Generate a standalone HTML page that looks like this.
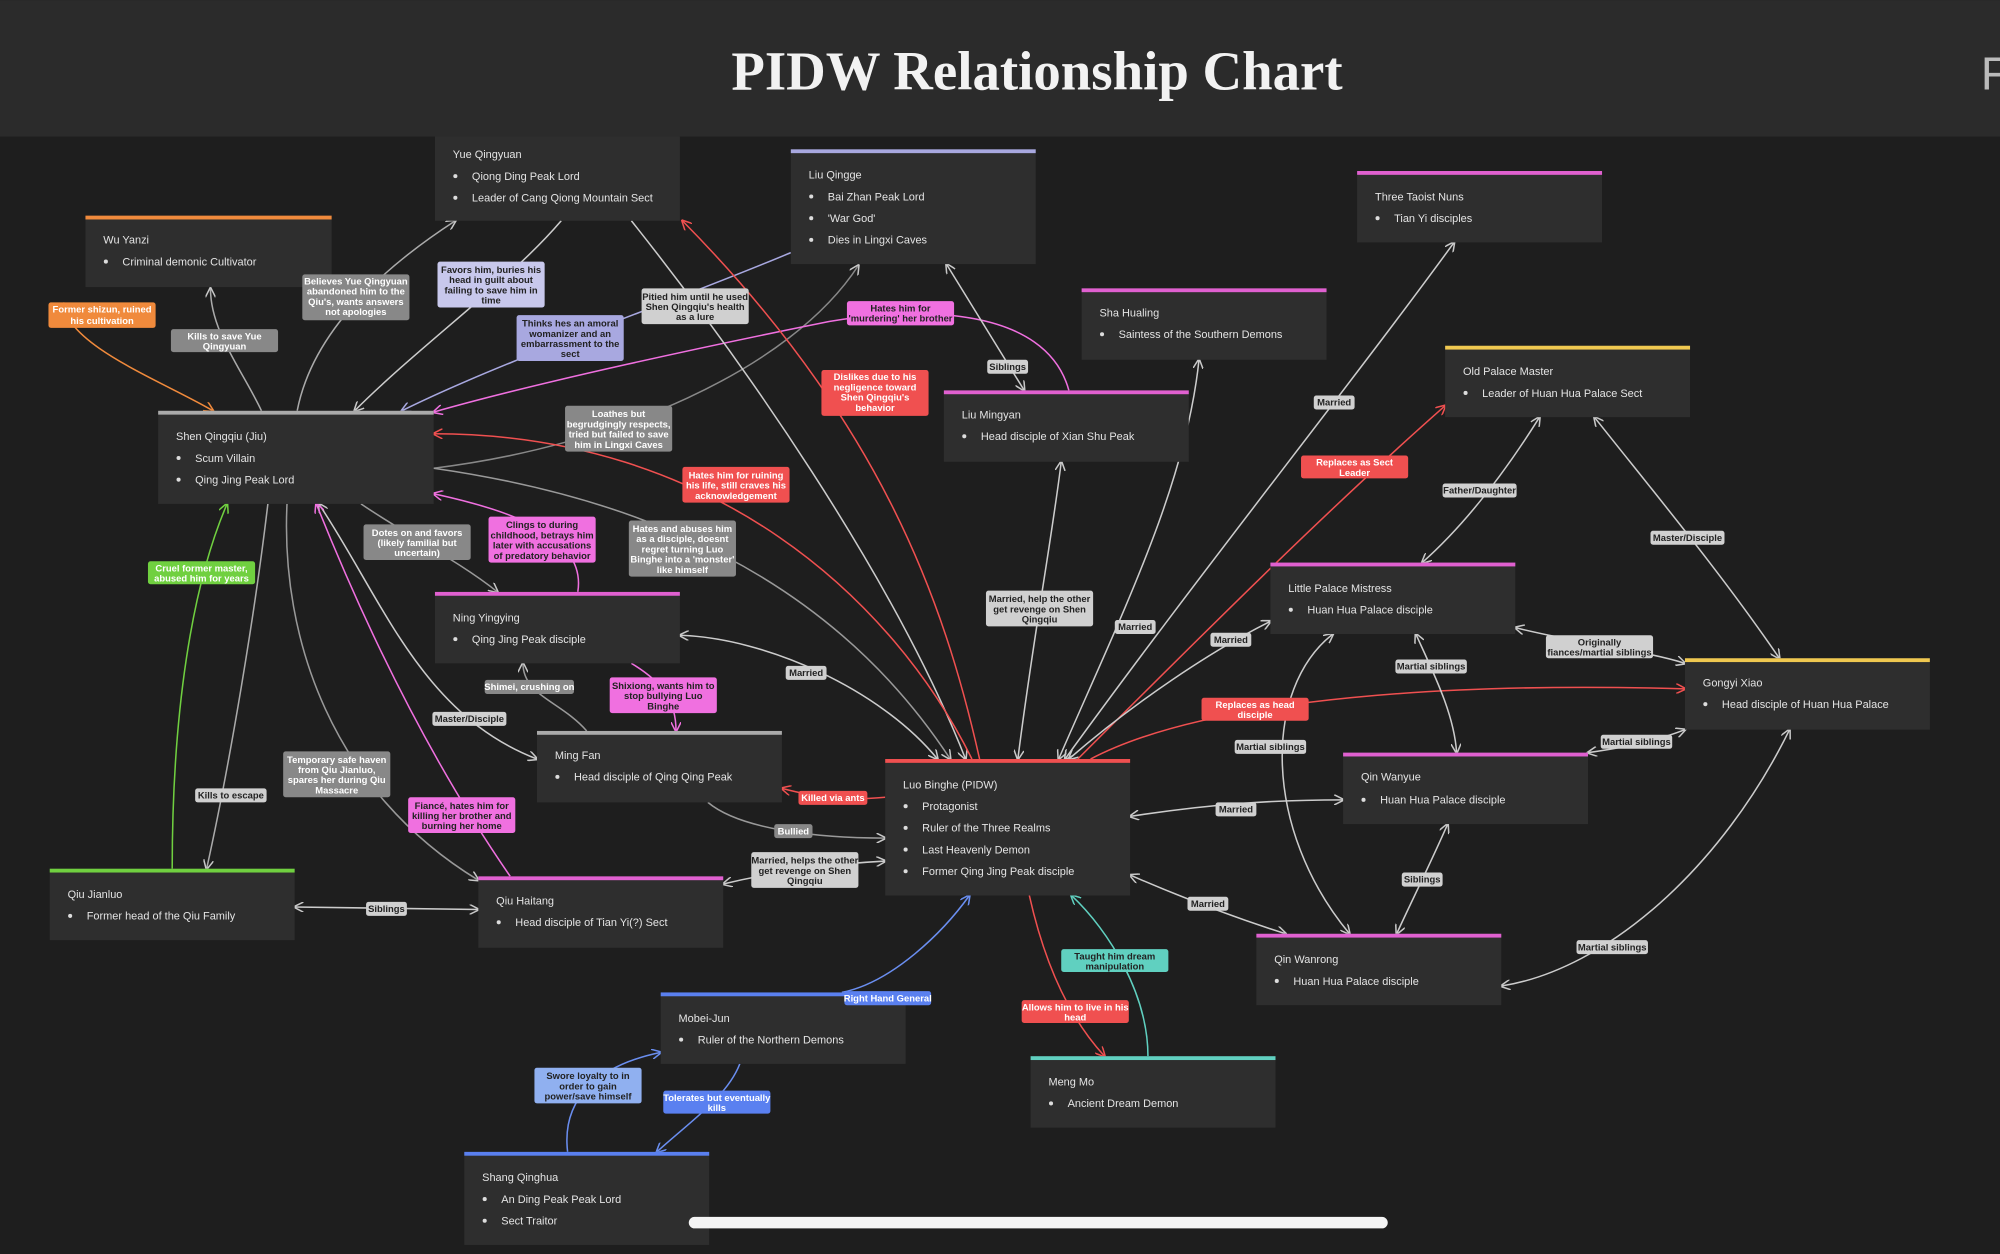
<!DOCTYPE html>
<html><head><meta charset="utf-8"><style>
html,body{margin:0;padding:0;background:#1e1e1e;overflow:hidden}
svg{display:block}
text{font-family:"Liberation Sans",sans-serif}
.nt{fill:#e4e4e4;font-size:8.6px}
.lb{font-size:7.4px;font-weight:bold;text-anchor:middle}
</style></head><body>
<svg width="2000" height="1254" viewBox="0 0 1568 983" xmlns="http://www.w3.org/2000/svg">
<defs>
<marker id="g" markerWidth="8" markerHeight="8" refX="7" refY="4" orient="auto-start-reverse" markerUnits="userSpaceOnUse"><path d="M0,0 L8,4 L0,8" fill="none" stroke="#c8c8c8" stroke-width="1.2"/></marker>
<marker id="r" markerWidth="8" markerHeight="8" refX="7" refY="4" orient="auto-start-reverse" markerUnits="userSpaceOnUse"><path d="M0,0 L8,4 L0,8" fill="none" stroke="#f05050" stroke-width="1.2"/></marker>
<marker id="p" markerWidth="8" markerHeight="8" refX="7" refY="4" orient="auto-start-reverse" markerUnits="userSpaceOnUse"><path d="M0,0 L8,4 L0,8" fill="none" stroke="#f070e0" stroke-width="1.2"/></marker>
<marker id="o" markerWidth="8" markerHeight="8" refX="7" refY="4" orient="auto-start-reverse" markerUnits="userSpaceOnUse"><path d="M0,0 L8,4 L0,8" fill="none" stroke="#f08a3c" stroke-width="1.2"/></marker>
<marker id="gr" markerWidth="8" markerHeight="8" refX="7" refY="4" orient="auto-start-reverse" markerUnits="userSpaceOnUse"><path d="M0,0 L8,4 L0,8" fill="none" stroke="#70d040" stroke-width="1.2"/></marker>
<marker id="b" markerWidth="8" markerHeight="8" refX="7" refY="4" orient="auto-start-reverse" markerUnits="userSpaceOnUse"><path d="M0,0 L8,4 L0,8" fill="none" stroke="#6a8ef0" stroke-width="1.2"/></marker>
<marker id="t" markerWidth="8" markerHeight="8" refX="7" refY="4" orient="auto-start-reverse" markerUnits="userSpaceOnUse"><path d="M0,0 L8,4 L0,8" fill="none" stroke="#60d0c0" stroke-width="1.2"/></marker>
<marker id="l" markerWidth="8" markerHeight="8" refX="7" refY="4" orient="auto-start-reverse" markerUnits="userSpaceOnUse"><path d="M0,0 L8,4 L0,8" fill="none" stroke="#a8a8e0" stroke-width="1.2"/></marker>
</defs>
<rect width="1568" height="983" fill="#1e1e1e"/>
<rect width="1568" height="107" fill="#2b2b2b"/>
<text x="813" y="70" text-anchor="middle" fill="#f2f2f2" font-weight="bold" font-size="43" style="font-family:'Liberation Serif',serif">PIDW Relationship Chart</text>
<text x="1553" y="70" fill="#bbb" font-size="36">F</text>

<g fill="none" stroke-width="1.2">
<path d="M50,237 C50,270 130,300 167,322" stroke="#f08a3c" marker-end="url(#o)"/>
<path d="M205,322 C190,290 165,260 165,226" stroke="#aaa" marker-end="url(#g)"/>
<path d="M233,322 C245,260 300,210 357,173" stroke="#aaa" marker-end="url(#g)"/>
<path d="M440,173 C400,220 330,270 278,322" stroke="#ccc" marker-end="url(#g)"/>
<path d="M620,198 C520,240 400,280 315,322" stroke="#a8a8e0" marker-end="url(#l)"/>
<path d="M340,367 C480,350 620,290 673,208" stroke="#888" marker-end="url(#g)"/>
<path d="M838,306 C820,240 720,240 650,252 C560,270 420,300 340,323" stroke="#f070e0" marker-end="url(#p)"/>
<path d="M742,207 L803,306" stroke="#ccc" marker-start="url(#g)" marker-end="url(#g)"/>
<path d="M495,173 C580,280 700,450 757,595" stroke="#ccc" marker-end="url(#g)"/>
<path d="M768,595 C740,470 690,330 535,173" stroke="#f05050" marker-end="url(#r)"/>
<path d="M762,595 C700,470 560,340 340,340" stroke="#f05050" marker-end="url(#r)"/>
<path d="M340,367 C500,390 650,450 745,595" stroke="#999" marker-end="url(#g)"/>
<path d="M453,464 C460,420 400,400 340,387" stroke="#f070e0" marker-end="url(#p)"/>
<path d="M283,395 C320,420 360,440 390,464" stroke="#999" marker-end="url(#g)"/>
<path d="M735,595 C690,540 600,500 533,498" stroke="#ccc" marker-start="url(#g)" marker-end="url(#g)"/>
<path d="M495,520 C520,535 530,550 530,573" stroke="#f070e0" marker-end="url(#p)"/>
<path d="M460,573 C440,550 410,545 410,520" stroke="#999" marker-end="url(#g)"/>
<path d="M250,395 C300,470 330,560 421,595" stroke="#ccc" marker-start="url(#g)" marker-end="url(#g)"/>
<path d="M694,625 C660,628 640,625 613,618" stroke="#f05050" marker-end="url(#r)"/>
<path d="M555,629 C580,650 640,657 694,657" stroke="#999" marker-end="url(#g)"/>
<path d="M694,675 C640,678 600,685 567,693" stroke="#ccc" marker-start="url(#g)" marker-end="url(#g)"/>
<path d="M400,687 C340,600 290,500 248,395" stroke="#f070e0" marker-end="url(#p)"/>
<path d="M225,395 C220,500 260,620 375,690" stroke="#999" marker-end="url(#g)"/>
<path d="M210,395 C200,480 180,600 162,681" stroke="#aaa" marker-end="url(#g)"/>
<path d="M135,681 C135,560 150,460 178,395" stroke="#70d040" marker-end="url(#gr)"/>
<path d="M231,711 L375,713" stroke="#ccc" marker-start="url(#g)" marker-end="url(#g)"/>
<path d="M660,778 C700,770 740,730 760,702" stroke="#6a8ef0" marker-end="url(#b)"/>
<path d="M445,903 C440,860 470,835 518,825" stroke="#6a8ef0" marker-end="url(#b)"/>
<path d="M580,834 C570,860 540,880 515,903" stroke="#6a8ef0" marker-end="url(#b)"/>
<path d="M807,702 C820,760 840,800 866,828" stroke="#f05050" marker-end="url(#r)"/>
<path d="M900,828 C900,780 870,730 840,702" stroke="#60d0c0" marker-end="url(#t)"/>
<path d="M798,595 C810,500 825,420 832,362" stroke="#ccc" marker-start="url(#g)" marker-end="url(#g)"/>
<path d="M830,595 C880,480 930,380 940,282" stroke="#ccc" marker-start="url(#g)" marker-end="url(#g)"/>
<path d="M835,595 C940,450 1060,300 1140,190" stroke="#ccc" marker-start="url(#g)" marker-end="url(#g)"/>
<path d="M845,595 C940,500 1040,400 1133,318" stroke="#f05050" marker-end="url(#r)"/>
<path d="M838,595 C890,550 950,510 996,487" stroke="#ccc" marker-start="url(#g)" marker-end="url(#g)"/>
<path d="M855,595 C950,545 1150,535 1321,540" stroke="#f05050" marker-end="url(#r)"/>
<path d="M886,640 C950,630 1000,627 1053,627" stroke="#ccc" marker-start="url(#g)" marker-end="url(#g)"/>
<path d="M886,686 C930,705 970,720 1008,732" stroke="#ccc" marker-start="url(#g)" marker-end="url(#g)"/>
<path d="M1207,327 C1180,370 1150,410 1115,441" stroke="#ccc" marker-start="url(#g)" marker-end="url(#g)"/>
<path d="M1250,327 C1300,390 1350,450 1395,516" stroke="#ccc" marker-start="url(#g)" marker-end="url(#g)"/>
<path d="M1188,492 C1240,505 1290,510 1321,520" stroke="#ccc" marker-start="url(#g)" marker-end="url(#g)"/>
<path d="M1110,497 C1125,530 1140,560 1142,590" stroke="#ccc" marker-start="url(#g)" marker-end="url(#g)"/>
<path d="M1045,497 C990,540 990,650 1058,732" stroke="#ccc" marker-start="url(#g)" marker-end="url(#g)"/>
<path d="M1245,590 C1280,585 1300,580 1321,572" stroke="#ccc" marker-start="url(#g)" marker-end="url(#g)"/>
<path d="M1135,646 C1120,680 1105,710 1095,732" stroke="#ccc" marker-start="url(#g)" marker-end="url(#g)"/>
<path d="M1403,572 C1350,680 1260,760 1177,773" stroke="#ccc" marker-start="url(#g)" marker-end="url(#g)"/>
</g>

<g>
<rect x="341" y="107" width="192" height="66" fill="#2e2e2e"/>
<text class="nt" x="355" y="124">Yue Qingyuan</text>
<circle cx="357" cy="138" r="1.6" fill="#ddd"/><text class="nt" x="370" y="141">Qiong Ding Peak Lord</text>
<circle cx="357" cy="155" r="1.6" fill="#ddd"/><text class="nt" x="370" y="158">Leader of Cang Qiong Mountain Sect</text>

<rect x="620" y="117" width="192" height="90" fill="#2e2e2e"/><rect x="620" y="117" width="192" height="3" fill="#a8a8e0"/>
<text class="nt" x="634" y="140">Liu Qingge</text>
<circle cx="636" cy="154" r="1.6" fill="#ddd"/><text class="nt" x="649" y="157">Bai Zhan Peak Lord</text>
<circle cx="636" cy="171" r="1.6" fill="#ddd"/><text class="nt" x="649" y="174">'War God'</text>
<circle cx="636" cy="188" r="1.6" fill="#ddd"/><text class="nt" x="649" y="191">Dies in Lingxi Caves</text>

<rect x="67" y="169" width="193" height="56" fill="#2e2e2e"/><rect x="67" y="169" width="193" height="3" fill="#f08a3c"/>
<text class="nt" x="81" y="191">Wu Yanzi</text>
<circle cx="83" cy="205" r="1.6" fill="#ddd"/><text class="nt" x="96" y="208">Criminal demonic Cultivator</text>

<rect x="1064" y="134" width="192" height="56" fill="#2e2e2e"/><rect x="1064" y="134" width="192" height="3" fill="#e060d0"/>
<text class="nt" x="1078" y="157">Three Taoist Nuns</text>
<circle cx="1080" cy="171" r="1.6" fill="#ddd"/><text class="nt" x="1093" y="174">Tian Yi disciples</text>

<rect x="848" y="226" width="192" height="56" fill="#2e2e2e"/><rect x="848" y="226" width="192" height="3" fill="#e060d0"/>
<text class="nt" x="862" y="248">Sha Hualing</text>
<circle cx="864" cy="262" r="1.6" fill="#ddd"/><text class="nt" x="877" y="265">Saintess of the Southern Demons</text>

<rect x="1133" y="271" width="192" height="56" fill="#2e2e2e"/><rect x="1133" y="271" width="192" height="3" fill="#f0c850"/>
<text class="nt" x="1147" y="294">Old Palace Master</text>
<circle cx="1149" cy="308" r="1.6" fill="#ddd"/><text class="nt" x="1162" y="311">Leader of Huan Hua Palace Sect</text>

<rect x="740" y="306" width="192" height="56" fill="#2e2e2e"/><rect x="740" y="306" width="192" height="3" fill="#e060d0"/>
<text class="nt" x="754" y="328">Liu Mingyan</text>
<circle cx="756" cy="342" r="1.6" fill="#ddd"/><text class="nt" x="769" y="345">Head disciple of Xian Shu Peak</text>

<rect x="124" y="322" width="216" height="73" fill="#2e2e2e"/><rect x="124" y="322" width="216" height="3" fill="#aaa"/>
<text class="nt" x="138" y="345">Shen Qingqiu (Jiu)</text>
<circle cx="140" cy="359" r="1.6" fill="#ddd"/><text class="nt" x="153" y="362">Scum Villain</text>
<circle cx="140" cy="376" r="1.6" fill="#ddd"/><text class="nt" x="153" y="379">Qing Jing Peak Lord</text>

<rect x="996" y="441" width="192" height="56" fill="#2e2e2e"/><rect x="996" y="441" width="192" height="3" fill="#e060d0"/>
<text class="nt" x="1010" y="464">Little Palace Mistress</text>
<circle cx="1012" cy="478" r="1.6" fill="#ddd"/><text class="nt" x="1025" y="481">Huan Hua Palace disciple</text>

<rect x="341" y="464" width="192" height="56" fill="#2e2e2e"/><rect x="341" y="464" width="192" height="3" fill="#e060d0"/>
<text class="nt" x="355" y="487">Ning Yingying</text>
<circle cx="357" cy="501" r="1.6" fill="#ddd"/><text class="nt" x="370" y="504">Qing Jing Peak disciple</text>

<rect x="1321" y="516" width="192" height="56" fill="#2e2e2e"/><rect x="1321" y="516" width="192" height="3" fill="#f0c850"/>
<text class="nt" x="1335" y="538">Gongyi Xiao</text>
<circle cx="1337" cy="552" r="1.6" fill="#ddd"/><text class="nt" x="1350" y="555">Head disciple of  Huan Hua Palace</text>

<rect x="421" y="573" width="192" height="56" fill="#2e2e2e"/><rect x="421" y="573" width="192" height="3" fill="#aaa"/>
<text class="nt" x="435" y="595">Ming Fan</text>
<circle cx="437" cy="609" r="1.6" fill="#ddd"/><text class="nt" x="450" y="612">Head disciple of Qing Qing Peak</text>

<rect x="694" y="595" width="192" height="107" fill="#2e2e2e"/><rect x="694" y="595" width="192" height="3" fill="#f05050"/>
<text class="nt" x="708" y="618">Luo Binghe (PIDW)</text>
<circle cx="710" cy="632" r="1.6" fill="#ddd"/><text class="nt" x="723" y="635">Protagonist</text>
<circle cx="710" cy="649" r="1.6" fill="#ddd"/><text class="nt" x="723" y="652">Ruler of the Three Realms</text>
<circle cx="710" cy="666" r="1.6" fill="#ddd"/><text class="nt" x="723" y="669">Last Heavenly Demon</text>
<circle cx="710" cy="683" r="1.6" fill="#ddd"/><text class="nt" x="723" y="686">Former Qing Jing Peak disciple</text>

<rect x="1053" y="590" width="192" height="56" fill="#2e2e2e"/><rect x="1053" y="590" width="192" height="3" fill="#e060d0"/>
<text class="nt" x="1067" y="612">Qin Wanyue</text>
<circle cx="1069" cy="627" r="1.6" fill="#ddd"/><text class="nt" x="1082" y="630">Huan Hua Palace disciple</text>

<rect x="39" y="681" width="192" height="56" fill="#2e2e2e"/><rect x="39" y="681" width="192" height="3" fill="#70d040"/>
<text class="nt" x="53" y="704">Qiu Jianluo</text>
<circle cx="55" cy="718" r="1.6" fill="#ddd"/><text class="nt" x="68" y="721">Former head of the Qiu Family</text>

<rect x="375" y="687" width="192" height="56" fill="#2e2e2e"/><rect x="375" y="687" width="192" height="3" fill="#e060d0"/>
<text class="nt" x="389" y="709">Qiu Haitang</text>
<circle cx="391" cy="723" r="1.6" fill="#ddd"/><text class="nt" x="404" y="726">Head disciple of Tian Yi(?) Sect</text>

<rect x="985" y="732" width="192" height="56" fill="#2e2e2e"/><rect x="985" y="732" width="192" height="3" fill="#e060d0"/>
<text class="nt" x="999" y="755">Qin Wanrong</text>
<circle cx="1001" cy="769" r="1.6" fill="#ddd"/><text class="nt" x="1014" y="772">Huan Hua Palace disciple</text>

<rect x="518" y="778" width="192" height="56" fill="#2e2e2e"/><rect x="518" y="778" width="192" height="3" fill="#5a80f0"/>
<text class="nt" x="532" y="801">Mobei-Jun</text>
<circle cx="534" cy="815" r="1.6" fill="#ddd"/><text class="nt" x="547" y="818">Ruler of the Northern Demons</text>

<rect x="808" y="828" width="192" height="56" fill="#2e2e2e"/><rect x="808" y="828" width="192" height="3" fill="#60d0c0"/>
<text class="nt" x="822" y="851">Meng Mo</text>
<circle cx="824" cy="865" r="1.6" fill="#ddd"/><text class="nt" x="837" y="868">Ancient Dream Demon</text>

<rect x="364" y="903" width="192" height="73" fill="#2e2e2e"/><rect x="364" y="903" width="192" height="3" fill="#5a80f0"/>
<text class="nt" x="378" y="926">Shang Qinghua</text>
<circle cx="380" cy="940" r="1.6" fill="#ddd"/><text class="nt" x="393" y="943">An Ding Peak Peak Lord</text>
<circle cx="380" cy="957" r="1.6" fill="#ddd"/><text class="nt" x="393" y="960">Sect Traitor</text>
</g>

<g class="lb">
<rect x="38" y="237" width="84" height="20" rx="2" fill="#f08a3c"/><text x="80" y="245" fill="#fff">Former shizun, ruined</text><text x="80" y="254" fill="#fff">his cultivation</text>
<rect x="134" y="258" width="84" height="18" rx="2" fill="#888"/><text x="176" y="266" fill="#fff">Kills to save Yue</text><text x="176" y="274" fill="#fff">Qingyuan</text>
<rect x="237" y="215" width="84" height="36" rx="2" fill="#888"/><text x="279" y="223" fill="#fff">Believes Yue Qingyuan</text><text x="279" y="231" fill="#fff">abandoned him to the</text><text x="279" y="239" fill="#fff">Qiu's, wants answers</text><text x="279" y="247" fill="#fff">not apologies</text>
<rect x="343" y="205" width="84" height="36" rx="2" fill="#c8c8ec"/><text x="385" y="214" fill="#222">Favors him, buries his</text><text x="385" y="222" fill="#222">head in guilt about</text><text x="385" y="230" fill="#222">failing to save him in</text><text x="385" y="238" fill="#222">time</text>
<rect x="405" y="247" width="84" height="36" rx="2" fill="#a8a8e0"/><text x="447" y="256" fill="#222">Thinks hes an amoral</text><text x="447" y="264" fill="#222">womanizer and an</text><text x="447" y="272" fill="#222">embarrassment to the</text><text x="447" y="280" fill="#222">sect</text>
<rect x="503" y="226" width="84" height="28" rx="2" fill="#d0d0d0"/><text x="545" y="235" fill="#222">Pitied him until he used</text><text x="545" y="243" fill="#222">Shen Qingqiu's health</text><text x="545" y="251" fill="#222">as a lure</text>
<rect x="664" y="236" width="84" height="19" rx="2" fill="#f070e0"/><text x="706" y="244" fill="#222">Hates him for</text><text x="706" y="252" fill="#222">'murdering' her brother</text>
<rect x="774" y="282" width="32" height="11" rx="2" fill="#d0d0d0"/><text x="790" y="290" fill="#222">Siblings</text>
<rect x="644" y="290" width="84" height="36" rx="2" fill="#f05050"/><text x="686" y="298" fill="#fff">Dislikes due to his</text><text x="686" y="306" fill="#fff">negligence toward</text><text x="686" y="314" fill="#fff">Shen Qingqiu's</text><text x="686" y="322" fill="#fff">behavior</text>
<rect x="443" y="318" width="84" height="36" rx="2" fill="#888"/><text x="485" y="327" fill="#fff">Loathes but</text><text x="485" y="335" fill="#fff">begrudgingly respects,</text><text x="485" y="343" fill="#fff">tried but failed to save</text><text x="485" y="351" fill="#fff">him in Lingxi Caves</text>
<rect x="535" y="366" width="84" height="28" rx="2" fill="#f05050"/><text x="577" y="375" fill="#fff">Hates him for ruining</text><text x="577" y="383" fill="#fff">his life, still craves his</text><text x="577" y="391" fill="#fff">acknowledgement</text>
<rect x="1030" y="310" width="32" height="11" rx="2" fill="#d0d0d0"/><text x="1046" y="318" fill="#222">Married</text>
<rect x="1020" y="357" width="84" height="18" rx="2" fill="#f05050"/><text x="1062" y="365" fill="#fff">Replaces as Sect</text><text x="1062" y="373" fill="#fff">Leader</text>
<rect x="1131" y="379" width="58" height="11" rx="2" fill="#d0d0d0"/><text x="1160" y="387" fill="#222">Father/Daughter</text>
<rect x="1294" y="416" width="58" height="11" rx="2" fill="#d0d0d0"/><text x="1323" y="424" fill="#222">Master/Disciple</text>
<rect x="383" y="405" width="84" height="36" rx="2" fill="#f070e0"/><text x="425" y="414" fill="#222">Clings to during</text><text x="425" y="422" fill="#222">childhood, betrays him</text><text x="425" y="430" fill="#222">later with accusations</text><text x="425" y="438" fill="#222">of predatory behavior</text>
<rect x="285" y="411" width="84" height="28" rx="2" fill="#888"/><text x="327" y="420" fill="#fff">Dotes on and favors</text><text x="327" y="428" fill="#fff">(likely familial but</text><text x="327" y="436" fill="#fff">uncertain)</text>
<rect x="493" y="408" width="84" height="44" rx="2" fill="#888"/><text x="535" y="417" fill="#fff">Hates and abuses him</text><text x="535" y="425" fill="#fff">as a disciple, doesnt</text><text x="535" y="433" fill="#fff">regret turning Luo</text><text x="535" y="441" fill="#fff">Binghe into a 'monster'</text><text x="535" y="449" fill="#fff">like himself</text>
<rect x="116" y="440" width="84" height="18" rx="2" fill="#70d040"/><text x="158" y="448" fill="#fff">Cruel former master,</text><text x="158" y="456" fill="#fff">abused him for years</text>
<rect x="773" y="463" width="84" height="28" rx="2" fill="#d0d0d0"/><text x="815" y="472" fill="#222">Married, help the other</text><text x="815" y="480" fill="#222">get revenge on Shen</text><text x="815" y="488" fill="#222">Qingqiu</text>
<rect x="874" y="486" width="32" height="11" rx="2" fill="#d0d0d0"/><text x="890" y="494" fill="#222">Married</text>
<rect x="949" y="496" width="32" height="11" rx="2" fill="#d0d0d0"/><text x="965" y="504" fill="#222">Married</text>
<rect x="1212" y="498" width="84" height="18" rx="2" fill="#d0d0d0"/><text x="1254" y="506" fill="#222">Originally</text><text x="1254" y="514" fill="#222">fiances/martial siblings</text>
<rect x="1094" y="517" width="56" height="11" rx="2" fill="#d0d0d0"/><text x="1122" y="525" fill="#222">Martial siblings</text>
<rect x="616" y="522" width="32" height="11" rx="2" fill="#d0d0d0"/><text x="632" y="530" fill="#222">Married</text>
<rect x="380" y="533" width="70" height="11" rx="2" fill="#888"/><text x="415" y="541" fill="#fff">Shimei, crushing on</text>
<rect x="478" y="531" width="84" height="28" rx="2" fill="#f070e0"/><text x="520" y="540" fill="#222">Shixiong, wants him to</text><text x="520" y="548" fill="#222">stop bullying Luo</text><text x="520" y="556" fill="#222">Binghe</text>
<rect x="942" y="547" width="84" height="18" rx="2" fill="#f05050"/><text x="984" y="555" fill="#fff">Replaces as head</text><text x="984" y="563" fill="#fff">disciple</text>
<rect x="339" y="558" width="58" height="11" rx="2" fill="#d0d0d0"/><text x="368" y="566" fill="#222">Master/Disciple</text>
<rect x="968" y="580" width="56" height="11" rx="2" fill="#d0d0d0"/><text x="996" y="588" fill="#222">Martial siblings</text>
<rect x="1255" y="576" width="56" height="11" rx="2" fill="#d0d0d0"/><text x="1283" y="584" fill="#222">Martial siblings</text>
<rect x="222" y="589" width="84" height="36" rx="2" fill="#888"/><text x="264" y="598" fill="#fff">Temporary safe haven</text><text x="264" y="606" fill="#fff">from Qiu Jianluo,</text><text x="264" y="614" fill="#fff">spares her during Qiu</text><text x="264" y="622" fill="#fff">Massacre</text>
<rect x="153" y="618" width="56" height="11" rx="2" fill="#d0d0d0"/><text x="181" y="626" fill="#222">Kills to escape</text>
<rect x="626" y="620" width="54" height="11" rx="2" fill="#f05050"/><text x="653" y="628" fill="#fff">Killed via ants</text>
<rect x="953" y="629" width="32" height="11" rx="2" fill="#d0d0d0"/><text x="969" y="637" fill="#222">Married</text>
<rect x="320" y="625" width="84" height="28" rx="2" fill="#f070e0"/><text x="362" y="634" fill="#222">Fiancé, hates him for</text><text x="362" y="642" fill="#222">killing her brother and</text><text x="362" y="650" fill="#222">burning her home</text>
<rect x="607" y="646" width="30" height="11" rx="2" fill="#888"/><text x="622" y="654" fill="#fff">Bullied</text>
<rect x="589" y="668" width="84" height="28" rx="2" fill="#d0d0d0"/><text x="631" y="677" fill="#222">Married, helps the other</text><text x="631" y="685" fill="#222">get revenge on Shen</text><text x="631" y="693" fill="#222">Qingqiu</text>
<rect x="1099" y="684" width="32" height="11" rx="2" fill="#d0d0d0"/><text x="1115" y="692" fill="#222">Siblings</text>
<rect x="931" y="703" width="32" height="11" rx="2" fill="#d0d0d0"/><text x="947" y="711" fill="#222">Married</text>
<rect x="287" y="707" width="32" height="11" rx="2" fill="#d0d0d0"/><text x="303" y="715" fill="#222">Siblings</text>
<rect x="1236" y="737" width="56" height="11" rx="2" fill="#d0d0d0"/><text x="1264" y="745" fill="#222">Martial siblings</text>
<rect x="832" y="744" width="84" height="18" rx="2" fill="#60d0c0"/><text x="874" y="752" fill="#222">Taught him dream</text><text x="874" y="760" fill="#222">manipulation</text>
<rect x="662" y="777" width="68" height="11" rx="2" fill="#5a80f0"/><text x="696" y="785" fill="#fff">Right Hand General</text>
<rect x="801" y="784" width="84" height="18" rx="2" fill="#f05050"/><text x="843" y="792" fill="#fff">Allows him to live in his</text><text x="843" y="800" fill="#fff">head</text>
<rect x="419" y="837" width="84" height="28" rx="2" fill="#90b0f0"/><text x="461" y="846" fill="#222">Swore loyalty to in</text><text x="461" y="854" fill="#222">order to gain</text><text x="461" y="862" fill="#222">power/save himself</text>
<rect x="520" y="855" width="84" height="18" rx="2" fill="#5a80f0"/><text x="562" y="863" fill="#fff">Tolerates but eventually</text><text x="562" y="871" fill="#fff">kills</text>
</g>

<rect x="540" y="954" width="548" height="9" rx="4.5" fill="#f4f4f4"/>
</svg>
</body></html>
